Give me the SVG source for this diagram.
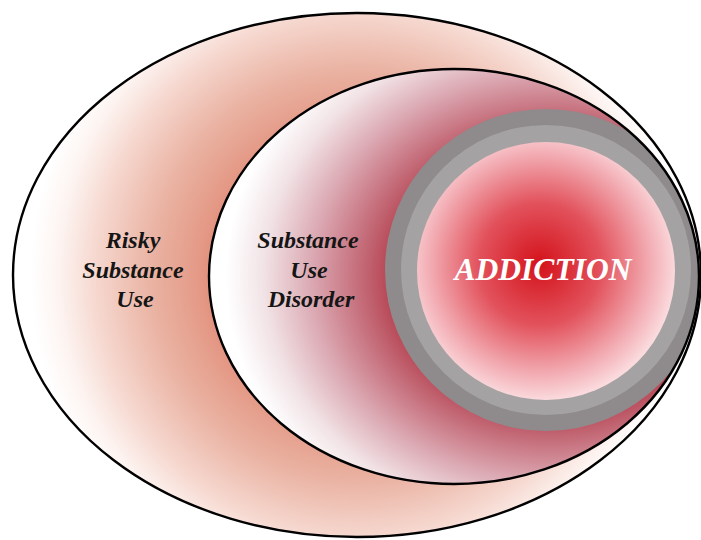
<svg xmlns="http://www.w3.org/2000/svg" width="701" height="540" viewBox="0 0 701 540">
  <style>
    .outline { fill: none; stroke: #000; stroke-width: 2.4; }
    .lbl { font-family: "Liberation Serif", "Times New Roman", serif; font-weight: bold; font-style: italic; font-size: 24px; fill: #151515; text-anchor: middle; }
    .core { font-family: "Liberation Serif", "Times New Roman", serif; font-weight: bold; font-style: italic; font-size: 31.5px; fill: #ffffff; text-anchor: middle; }
  </style>
  <defs>
    <radialGradient id="gOuter" gradientUnits="userSpaceOnUse" cx="357" cy="275" r="344">
      <stop offset="0.4" stop-color="#e08a76"/>
      <stop offset="0.46" stop-color="#e49986"/>
      <stop offset="0.6" stop-color="#eab3a3"/>
      <stop offset="0.75" stop-color="#f5d5cc"/>
      <stop offset="0.87" stop-color="#fdf4f1"/>
      <stop offset="0.95" stop-color="#ffffff"/>
    </radialGradient>
    <radialGradient id="gInner" cx="0.7" cy="0.5" r="0.7">
      <stop offset="0.42" stop-color="#ae2c3c"/>
      <stop offset="0.52" stop-color="#be5a68"/>
      <stop offset="0.7" stop-color="#dba8b2"/>
      <stop offset="0.84" stop-color="#f1e2e5"/>
      <stop offset="0.95" stop-color="#ffffff"/>
    </radialGradient>
    <radialGradient id="gCore" gradientUnits="userSpaceOnUse" cx="540" cy="264" r="136">
      <stop offset="0" stop-color="#d4121b"/>
      <stop offset="0.45" stop-color="#e2525c"/>
      <stop offset="0.8" stop-color="#f2aab1"/>
      <stop offset="1" stop-color="#fadadd"/>
    </radialGradient>
    <clipPath id="clipInner">
      <ellipse cx="454" cy="276.5" rx="245" ry="207.5"/>
    </clipPath>
  </defs>

  <g id="risky-substance-use">
    <ellipse cx="357" cy="275" rx="344" ry="262" fill="url(#gOuter)"/>
    <text class="lbl" x="133" y="248">Risky</text>
    <text class="lbl" x="133" y="278">Substance</text>
    <text class="lbl" x="135" y="307">Use</text>
  </g>

  <g id="substance-use-disorder">
    <ellipse cx="454" cy="276.5" rx="245" ry="207.5" fill="url(#gInner)"/>
    <text class="lbl" x="308" y="248">Substance</text>
    <text class="lbl" x="309" y="278">Use</text>
    <text class="lbl" x="311" y="307">Disorder</text>
  </g>

  <g id="addiction">
    <g clip-path="url(#clipInner)">
      <circle cx="546" cy="270" r="161" fill="#8f8a8b"/>
      <circle cx="546" cy="270" r="145" fill="#a4a2a3"/>
    </g>
    <circle cx="546" cy="271" r="129" fill="url(#gCore)"/>
    <text class="core" x="543" y="280">ADDICTION</text>
  </g>

  <g id="outlines">
    <ellipse class="outline" cx="357" cy="275" rx="344" ry="262"/>
    <ellipse class="outline" cx="454" cy="276.5" rx="245" ry="207.5"/>
  </g>
</svg>
